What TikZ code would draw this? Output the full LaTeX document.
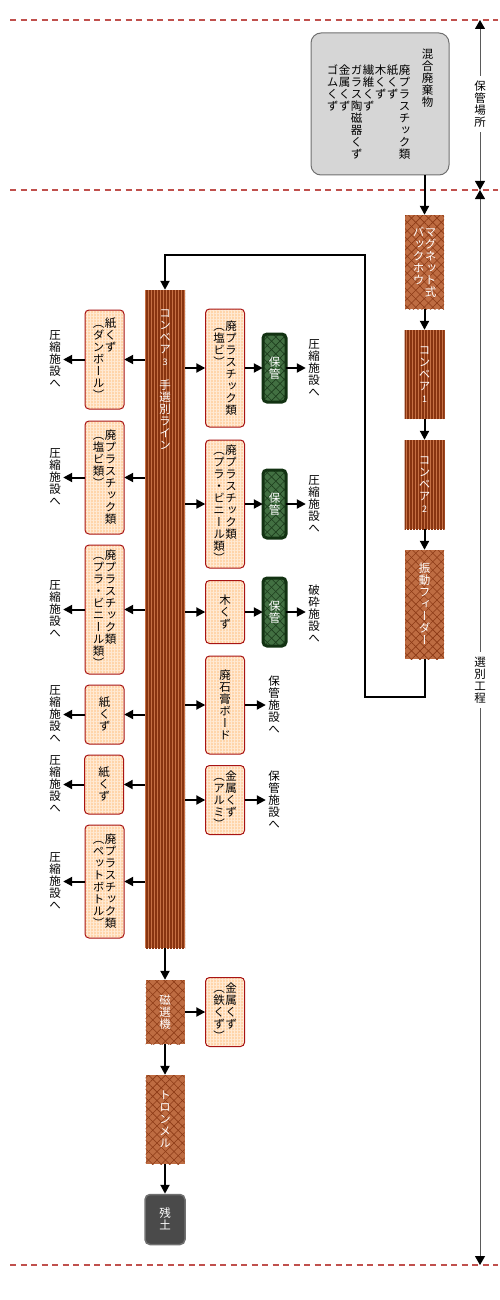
\documentclass[tikz,border=0pt]{standalone}
\usepackage{fontspec}
\setmainfont{Noto Sans CJK JP}[RawFeature=+vert]
\usetikzlibrary{arrows.meta,patterns.meta}

\definecolor{sepred}{RGB}{192,80,77}
\definecolor{itemfill}{RGB}{255,213,170}
\definecolor{itemgrid}{RGB}{255,234,212}
\definecolor{itemedge}{RGB}{168,20,20}
\definecolor{beltlight}{RGB}{198,112,68}
\definecolor{beltdark}{RGB}{136,52,16}
\definecolor{hatchfill}{RGB}{190,108,66}
\definecolor{hatchline}{RGB}{140,58,22}
\definecolor{keepfill}{RGB}{66,112,66}
\definecolor{keepline}{RGB}{28,60,28}
\definecolor{keepedge}{RGB}{18,50,18}
\definecolor{wastefill}{RGB}{214,214,214}
\definecolor{wasteedge}{RGB}{112,112,112}
\definecolor{soilfill}{RGB}{74,74,74}
\definecolor{soiledge}{RGB}{112,112,112}
\definecolor{axisgray}{RGB}{90,90,90}

% one character per line, vertical writing
\ExplSyntaxOn
\NewDocumentCommand \tate { m }
  {
    \vtop
      {
        \offinterlineskip
        \tl_map_inline:nn {#1}
          { \hbox_to_wd:nn {12pt} { \hss \rule[-1.8pt]{0pt}{12pt} ##1 \hss } }
      }
  }
\ExplSyntaxOff

\tikzset{
  wastebox/.style={fill=wastefill, draw=wasteedge, line width=1pt, rounded corners=10pt,
    minimum width=138pt, minimum height=142pt, inner sep=0pt},
  beltbox/.style={fill=beltlight, text=white, minimum width=40pt, inner sep=0pt,
    postaction={pattern={Lines[angle=90,distance=3pt,line width=1.2pt]}, pattern color=beltdark}},
  hatchbox/.style={fill=hatchfill, text=white, minimum width=39pt, inner sep=0pt,
    postaction={pattern={Lines[angle=45,distance=6pt,line width=0.6pt]}, pattern color=hatchline},
    postaction={pattern={Lines[angle=-45,distance=6pt,line width=0.6pt]}, pattern color=hatchline}},
  itembox/.style={fill=itemfill, rounded corners=4pt, minimum width=39pt, inner sep=0pt,
    postaction={pattern={Lines[angle=0,distance=3pt,line width=0.6pt]}, pattern color=itemgrid},
    postaction={pattern={Lines[angle=90,distance=3pt,line width=0.6pt]}, pattern color=itemgrid},
    postaction={draw=itemedge, line width=1pt}},
  keepbox/.style={fill=keepfill, text=white, rounded corners=4pt, minimum width=23pt,
    minimum height=68pt, inner sep=0pt,
    postaction={pattern={Lines[angle=45,distance=6pt,line width=0.6pt]}, pattern color=keepline},
    postaction={pattern={Lines[angle=-45,distance=6pt,line width=0.6pt]}, pattern color=keepline},
    postaction={draw=keepedge, line width=3pt}},
  soilbox/.style={fill=soilfill, draw=soiledge, line width=1.5pt, rounded corners=5pt, text=white,
    minimum width=40pt, minimum height=50pt, inner sep=0pt},
  destlabel/.style={inner xsep=2pt, inner ysep=0pt},
  zonelabel/.style={inner xsep=0pt, inner ysep=4pt},
  flow/.style={line width=2pt, -{Triangle[length=9pt,width=9pt]}},
  axisline/.style={draw=axisgray, line width=1pt, -{Triangle[length=9pt,width=10pt,color=black]}},
  zoneline/.style={draw=sepred, line width=2pt, dash pattern=on 6pt off 4.5pt}
}

\begin{document}
\begin{tikzpicture}[x=1pt,y=1pt,yscale=-1,font=\fontsize{11.5}{12}\selectfont]
\useasboundingbox (0,0) rectangle (500,1300);

% zone borders
\draw[zoneline] (10,20) -- (498,20);
\draw[zoneline] (10,190) -- (498,190);
\draw[zoneline] (10,1265) -- (498,1265);

% zone axis
\coordinate (axA) at (480,20);
\coordinate (axB) at (480,190);
\coordinate (axC) at (480,1265);
\node[zonelabel] (zone1) at (480,104) {\tate{保管場所}};
\node[zonelabel] (zone2) at (480,680) {\tate{選別工程}};
\draw[axisline] (zone1.north) -- (axA);
\draw[axisline] (zone1.south) -- (axB);
\draw[axisline] (zone2.north) -- (axB);
\draw[axisline] (zone2.south) -- (axC);

% Text Node
\node[wastebox] (waste) at (380,104) {\tate{ゴムくず}\tate{金属くず}\tate{ガラス陶磁器くず}\tate{繊維くず}\tate{木くず}\tate{紙くず}\tate{廃プラスチック類}\hspace{11pt}\raisebox{16pt}{\tate{混合廃棄物}}};
% Text Node
\node[hatchbox, minimum height=94pt] (magnet) at (424.5,262) {\tate{バックホウ}\tate{マグネット式}};
\node[beltbox, minimum height=89pt] (conv1) at (424.5,374.5) {\tate{コンベア{\small 1}}};
\node[beltbox, minimum height=89pt] (conv2) at (424.5,484.5) {\tate{コンベア{\small 2}}};
\node[hatchbox, minimum height=109pt] (feeder) at (424.5,604.5) {\tate{振動フィーダー}};

% Text Node
\node[beltbox, minimum height=658pt] (conv3) at (165,619) {\vbox to 624pt{\tate{コンベア{\small 3}　手選別ライン}\vfill}};

% left side
\node[itembox, minimum height=99pt] (left1) at (104.5,359.5) {\tate{（ダンボール）}\tate{紙くず}};
\node[itembox, minimum height=113pt] (left2) at (104.5,477.5) {\tate{（塩ビ類）}\tate{廃プラスチック類}};
\node[itembox, minimum height=129pt] (left3) at (104.5,609.5) {\tate{（プラ・ビニール類）}\tate{廃プラスチック類}};
\node[itembox, minimum height=59pt] (left4) at (104.5,714.5) {\tate{紙くず}};
\node[itembox, minimum height=59pt] (left5) at (104,784.5) {\tate{紙くず}};
\node[itembox, minimum height=113pt] (left6) at (104.5,881.5) {\tate{（ペットボトル）}\tate{廃プラスチック類}};
\node[destlabel] (ldest1) at (55,359.5) {\tate{圧縮施設へ}};
\node[destlabel] (ldest2) at (55,477.5) {\tate{圧縮施設へ}};
\node[destlabel] (ldest3) at (55,609.5) {\tate{圧縮施設へ}};
\node[destlabel] (ldest4) at (55,714.5) {\tate{圧縮施設へ}};
\node[destlabel] (ldest5) at (55,784.5) {\tate{圧縮施設へ}};
\node[destlabel] (ldest6) at (55,881.5) {\tate{圧縮施設へ}};

% right side
\node[itembox, minimum height=118pt] (right1) at (225,368) {\tate{（塩ビ）}\tate{廃プラスチック類}};
\node[itembox, minimum height=128pt] (right2) at (225,504) {\tate{（プラ・ビニール類）}\tate{廃プラスチック類}};
\node[itembox, minimum height=63pt] (right3) at (225,612) {\tate{木くず}};
\node[itembox, minimum height=98pt] (right4) at (225,705) {\tate{廃石膏ボード}};
\node[itembox, minimum height=69pt] (right5) at (225,800) {\tate{（アルミ）}\tate{金属くず}};
\node[keepbox] (keep1) at (274.5,368) {\tate{保管}};
\node[keepbox] (keep2) at (274.5,504) {\tate{保管}};
\node[keepbox] (keep3) at (274.5,612) {\tate{保管}};
\node[destlabel] (rdest1) at (314,368) {\tate{圧縮施設へ}};
\node[destlabel] (rdest2) at (314,504) {\tate{圧縮施設へ}};
\node[destlabel] (rdest3) at (314,614) {\tate{破砕施設へ}};
\node[destlabel] (rdest4) at (274,705) {\tate{保管施設へ}};
\node[destlabel] (rdest5) at (274,800) {\tate{保管施設へ}};

% bottom
\node[hatchbox, minimum height=64pt] (magsep) at (165,1012) {\tate{磁選機}};
\node[itembox, minimum height=69pt] (iron) at (225,1012) {\tate{（鉄くず）}\tate{金属くず}};
\node[hatchbox, minimum height=89pt] (trommel) at (165,1119.5) {\tate{トロンメル}};
\node[soilbox] (soil) at (165,1219.5) {\tate{残土}};

% Connection
\draw[flow] (waste.south -| magnet.north) -- (magnet.north);
\draw[flow] (magnet.south) -- (conv1.north);
\draw[flow] (conv1.south) -- (conv2.north);
\draw[flow] (conv2.south) -- (feeder.north);
\coordinate (loopB) at (365,697);
\coordinate (loopT) at (365,255);
\draw[flow] (feeder.south) |- (loopB) -- (loopT) -| (conv3.north);

% Connection
\foreach \i in {1,...,6}{
  \draw[flow] (conv3.west |- left\i.east) -- (left\i.east);
  \draw[flow] (left\i.west) -- (ldest\i.east);
}
\foreach \i in {1,...,5}
  \draw[flow] (conv3.east |- right\i.west) -- (right\i.west);
\foreach \i in {1,2,3}{
  \draw[flow] (right\i.east) -- (keep\i.west);
  \draw[flow] (keep\i.east) -- (rdest\i.west |- keep\i.east);
}
\draw[flow] (right4.east) -- (rdest4.west);
\draw[flow] (right5.east) -- (rdest5.west);

% Connection
\draw[flow] (conv3.south) -- (magsep.north);
\draw[flow] (magsep.east) -- (iron.west);
\draw[flow] (magsep.south) -- (trommel.north);
\draw[flow] (trommel.south) -- (soil.north);

\end{tikzpicture}
\end{document}
